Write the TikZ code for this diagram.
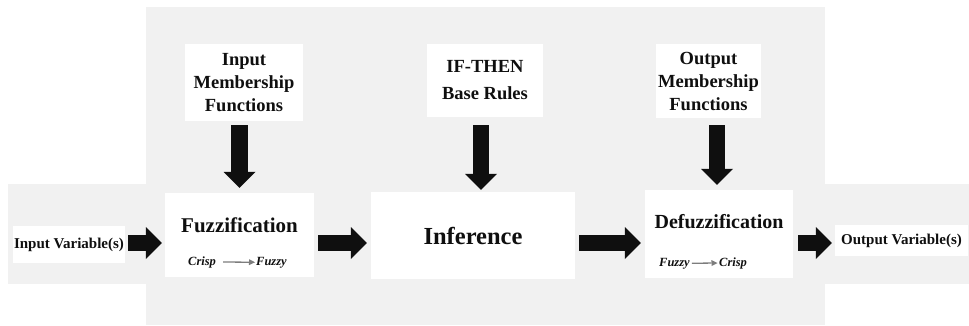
\documentclass[tikz,border=0pt]{standalone}
\usepackage{fontspec}
\setmainfont{Liberation Serif}
\usetikzlibrary{arrows.meta,calc}
\definecolor{panel}{RGB}{241,241,241}
\definecolor{ink}{RGB}{15,15,15}
\definecolor{convgray}{RGB}{125,125,125}
\begin{document}
\begin{tikzpicture}[x=1pt,y=-1pt,
  box/.style={fill=white, draw=none, inner sep=0pt, text=ink, align=center},
  title/.style={inner sep=0pt, anchor=base, text=ink, font=\bfseries\fontsize{#1}{#1}\selectfont},
  sub/.style={inner sep=0pt, anchor=base west, text=ink, font=\bfseries\itshape\fontsize{12.5}{12.5}\selectfont},
  flow/.style={draw=ink, line width=16.5pt, -{Triangle[length=16pt, width=32pt, line width=0pt]}},
  conv/.style={draw=convgray, line width=1.3pt, -{Triangle[length=6pt, width=6pt, line width=0pt]}},
  toplbl/.style={font=\bfseries\fontsize{18.5}{23}\selectfont}
]
\useasboundingbox (0,0) rectangle (969,325);

% shaded panels: the processing area and the signal band through it
\fill[panel] (146,7) rectangle (825,325);
\fill[panel] (8,184) rectangle (969,284);

% level of the horizontal signal flow
\coordinate (lvl) at (0,243);

% main blocks
\node[box, minimum width=112pt, minimum height=37pt, font=\bfseries\fontsize{15}{15}\selectfont]
  (invar) at (69,244.5) {Input Variable(s)};
\node[box, minimum width=149pt, minimum height=84pt] (fuzz) at (239.5,235) {};
\node[box, minimum width=204pt, minimum height=87pt, font=\bfseries\fontsize{24.5}{24.5}\selectfont]
  (infer) at (473,235.5) {Inference};
\node[box, minimum width=148pt, minimum height=88pt] (defuzz) at (719,234) {};
\node[box, minimum width=133pt, minimum height=31pt, font=\bfseries\fontsize{15}{15}\selectfont]
  (outvar) at (901.5,240.5) {Output Variable(s)};

% knowledge blocks
\node[box, toplbl, minimum width=118pt, minimum height=77pt] (inmf) at (244,82.5)
  {Input\\Membership\\Functions};
\node[box, toplbl, minimum width=116pt, minimum height=73pt, font=\bfseries\fontsize{18.5}{27}\selectfont]
  (rules) at (485,80.5) {IF-THEN\\Base Rules};
\node[box, toplbl, minimum width=105pt, minimum height=74pt] (outmf) at (708.5,81)
  {Output\\Membership\\Functions};

% block titles and conversions
\node[title=21] (fuzzt) at (239.5,232) {Fuzzification};
\node[sub] (c1) at (188,265) {Crisp};
\node[sub] (f1) at (256,265) {Fuzzy};
\draw[conv] ($(c1.east)+(7,0)$) -- ($(f1.west)+(-1,0)$);

\node[title=20] (defuzzt) at (719,228) {Defuzzification};
\node[sub] (f2) at (659,266) {Fuzzy};
\node[sub] (c2) at (719,266) {Crisp};
\draw[conv] ($(f2.east)+(2,0)$) -- ($(c2.west)+(-1.5,0)$);

% horizontal flow
\draw[flow] ($(invar.east |- lvl)+(3,0)$) -- ($(fuzz.west |- lvl)+(-3,0)$);
\draw[flow] ($(fuzz.east |- lvl)+(4,0)$) -- ($(infer.west |- lvl)+(-4,0)$);
\draw[flow] ($(infer.east |- lvl)+(4,0)$) -- ($(defuzz.west |- lvl)+(-4,0)$);
\draw[flow] ($(defuzz.east |- lvl)+(5,0)$) -- ($(outvar.west |- lvl)+(-3,0)$);

% vertical feeds
\draw[flow] ($(inmf.south -| fuzz.north)+(0,4)$) -- ($(fuzz.north)+(0,-5)$);
\draw[flow] ($(rules.south)+(-4,8)$) -- ($(rules.south |- infer.north)+(-4,-2)$);
\draw[flow] ($(outmf.south -| defuzz.north)+(-2,7)$) -- ($(defuzz.north)+(-2,-5)$);
\end{tikzpicture}
\end{document}
